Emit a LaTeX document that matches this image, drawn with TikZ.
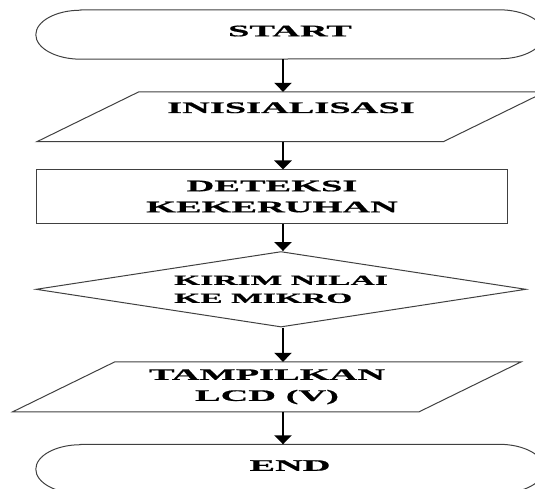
\documentclass[tikz,border=0pt]{standalone}
\usepackage{fontspec}
\usetikzlibrary{shapes.geometric, arrows.meta}
\newfontfamily\flowfont{Liberation Serif}[FakeStretch=2.4, FakeBold=0.8]

\begin{document}
\begin{tikzpicture}[x=1pt, y=1pt, node distance=80pt,
  font=\flowfont\bfseries\fontsize{16}{21}\selectfont,
  outline/.style={draw=black!75, line width=1pt},
  terminal/.style={rectangle, minimum width=508pt, minimum height=49pt, inner sep=0pt, text height=5pt, text depth=1.5pt},
  io/.style={rectangle, minimum width=406pt, minimum height=49.5pt, inner sep=0pt, align=center},
  process/.style={rectangle, outline, minimum width=471pt, minimum height=53pt, inner sep=0pt, align=center},
  decision/.style={diamond, aspect=6.5, outline, minimum width=490pt, minimum height=75.5pt, inner sep=0pt, align=left, font=\flowfont\bfseries\fontsize{14}{18}\selectfont},
  arr/.style={-{Triangle[width=17pt, length=9pt]}, line width=2.4pt}]
  \clip (0,0) rectangle (535,-489);
  \coordinate (axis) at (283,0);
  \node[terminal] (start) at (290,-34.5) {START};
  \node[io, below of=start, node distance=82.3pt, xshift=1pt, text height=4pt, text depth=11.6pt] (init) {INISIALISASI};
  \node[process, below of=init, node distance=79.7pt, xshift=-19pt] (detect) {DETEKSI\\KEKERUHAN};
  \node[decision, below of=detect, node distance=92.8pt, xshift=9pt] (send) {KIRIM NILAI\\KE MIKRO};
  \node[io, below of=send, node distance=97.5pt, xshift=-14pt] (show) {TAMPILKAN\\LCD (V)};
  \node[terminal, below of=show, node distance=82.2pt, xshift=23pt] (end) {END};
  % terminator outline with flat ellipse ends
  \foreach \t in {start,end}
    \draw[outline] ([xshift=45pt]\t.north west) -- ([xshift=-45pt]\t.north east)
      arc[start angle=90, end angle=-90, x radius=45pt, y radius=24.5pt]
      -- ([xshift=45pt]\t.south west)
      arc[start angle=270, end angle=90, x radius=45pt, y radius=24.5pt] -- cycle;
  % input/output slanted boxes
  \foreach \t in {init,show}
    \draw[outline] ([xshift=51pt]\t.north west) -- ([xshift=51pt]\t.north east)
      -- ([xshift=-51pt]\t.south east) -- ([xshift=-51pt]\t.south west) -- cycle;
  \draw[arr] (start.south -| axis) -- (init.north -| axis);
  \draw[arr] (init.south -| axis) -- (detect.north -| axis);
  \draw[arr] (detect.south -| axis) -- (send.north -| axis);
  \draw[arr] (send.south -| axis) -- (show.north -| axis);
  \draw[arr] (show.south -| axis) -- (end.north -| axis);
\end{tikzpicture}
\end{document}
